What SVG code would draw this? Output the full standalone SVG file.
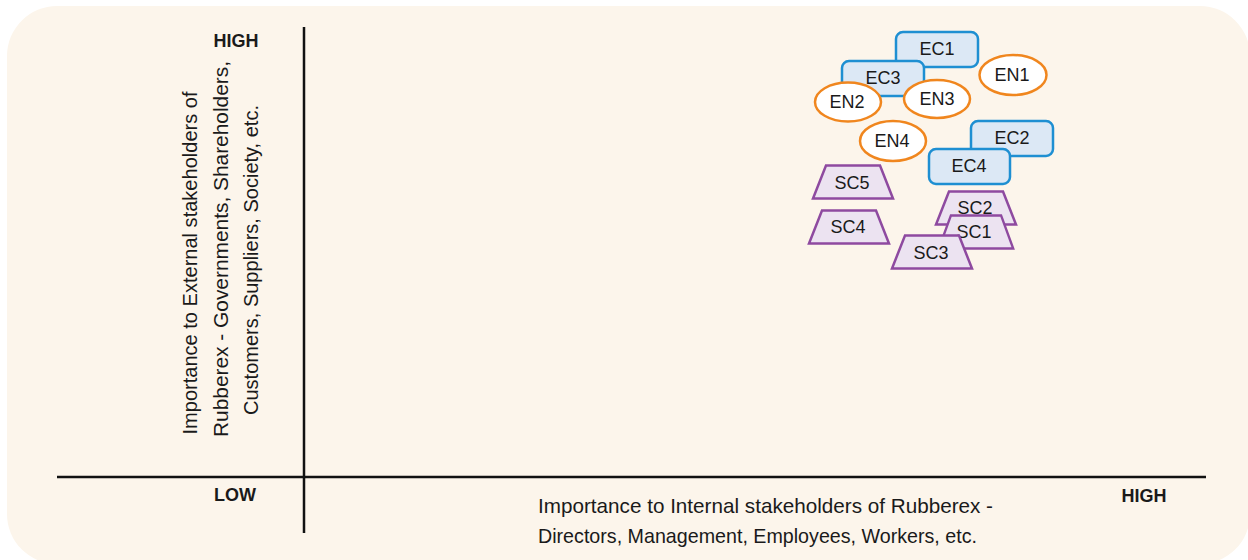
<svg xmlns="http://www.w3.org/2000/svg" width="1248" height="560" viewBox="0 0 1248 560">
<style>
.lbl{font-family:"Liberation Sans",Arial,sans-serif;font-size:21px;fill:#1a1a1a}
.bold{font-family:"Liberation Sans",Arial,sans-serif;font-size:18px;font-weight:bold;fill:#1a1a1a;text-anchor:middle}
.ax{stroke:#111;stroke-width:2.5;fill:none}
.ec{fill:#DCE8F5;stroke:#1E8FD2;stroke-width:2.5}
.en{fill:#ffffff;stroke:#F0861E;stroke-width:2.5}
.sc{fill:#ECE3F1;stroke:#8E4AA0;stroke-width:2.5}
.t{font-family:"Liberation Sans",Arial,sans-serif;font-size:18px;fill:#1a1a1a;text-anchor:middle;dominant-baseline:central}
</style>
<defs>
<polygon id="trap" points="-27,-16.5 27,-16.5 40,16.5 -40,16.5"/>
</defs>
<rect x="7" y="6" width="1243" height="558" rx="50" fill="#FCF5EB"/>
<g id="axes">
<line class="ax" x1="304" y1="27" x2="304" y2="533"/>
<line class="ax" x1="57" y1="477" x2="1206" y2="477"/>
<text class="bold" x="236" y="47">HIGH</text>
<text class="bold" x="235" y="501">LOW</text>
<text class="bold" x="1144" y="502">HIGH</text>
<text class="lbl" x="538" y="513" textLength="455" lengthAdjust="spacingAndGlyphs">Importance to Internal stakeholders of Rubberex -</text>
<text class="lbl" x="538" y="543" textLength="439" lengthAdjust="spacingAndGlyphs">Directors, Management, Employees, Workers, etc.</text>
<g transform="translate(197,263) rotate(-90)">
<text class="lbl" x="0" y="0" text-anchor="middle" textLength="343" lengthAdjust="spacingAndGlyphs">Importance to External stakeholders of</text>
</g>
<g transform="translate(228,249) rotate(-90)">
<text class="lbl" x="0" y="0" text-anchor="middle" textLength="376" lengthAdjust="spacingAndGlyphs">Rubberex - Governments, Shareholders,</text>
</g>
<g transform="translate(258,260) rotate(-90)">
<text class="lbl" x="0" y="0" text-anchor="middle" textLength="310" lengthAdjust="spacingAndGlyphs">Customers, Suppliers, Society, etc.</text>
</g>
</g>
<g id="connectors"/>
<g id="EC1"><rect class="ec" x="896" y="32" width="82" height="35" rx="7"/><text class="t" x="937" y="49">EC1</text></g>
<g id="EC3"><rect class="ec" x="842" y="61" width="82" height="35" rx="7"/><text class="t" x="883" y="78">EC3</text></g>
<g id="EN1"><ellipse class="en" cx="1013" cy="75" rx="33.5" ry="20"/><text class="t" x="1012" y="75">EN1</text></g>
<g id="EN2"><ellipse class="en" cx="848" cy="102" rx="33" ry="19.5"/><text class="t" x="847" y="102">EN2</text></g>
<g id="EN3"><ellipse class="en" cx="937" cy="99" rx="33" ry="19"/><text class="t" x="937" y="99">EN3</text></g>
<g id="EN4"><ellipse class="en" cx="893" cy="141" rx="33" ry="20"/><text class="t" x="892" y="141">EN4</text></g>
<g id="EC2"><rect class="ec" x="971" y="121" width="82" height="35" rx="7"/><text class="t" x="1012" y="138">EC2</text></g>
<g id="EC4"><rect class="ec" x="929" y="149" width="81" height="35" rx="7"/><text class="t" x="969" y="166">EC4</text></g>
<g id="SC5"><use href="#trap" class="sc" transform="translate(853,182)"/><text class="t" x="852" y="183">SC5</text></g>
<g id="SC4"><use href="#trap" class="sc" transform="translate(849,227)"/><text class="t" x="848" y="227">SC4</text></g>
<g id="SC2"><use href="#trap" class="sc" transform="translate(976,208)"/><text class="t" x="975" y="208">SC2</text></g>
<g id="SC1"><use href="#trap" class="sc" transform="translate(976,232) scale(0.93,1)"/><text class="t" x="974" y="232">SC1</text></g>
<g id="SC3"><use href="#trap" class="sc" transform="translate(932,252)"/><text class="t" x="931" y="253">SC3</text></g>
</svg>
